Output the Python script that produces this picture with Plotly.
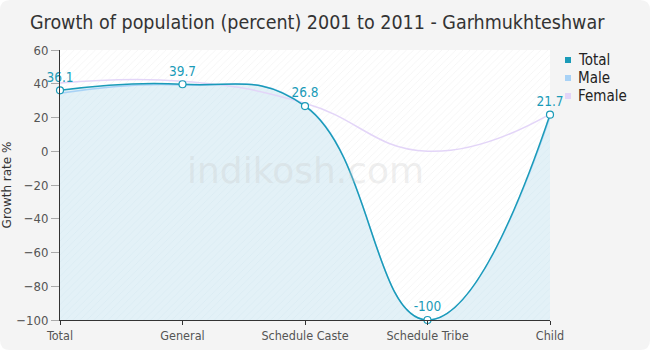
import plotly.graph_objects as go

categories = ["Total", "General", "Schedule Caste", "Schedule Tribe", "Child"]
total = [36.1, 39.7, 26.8, -100, 21.7]
male = [34.3, 39.3, 27.0, -100, 20.5]
female = [40.4, 41.5, 28.5, 0, 22.0]
y_ticks = [60, 40, 20, 0, -20, -40, -60, -80, -100]

Y_MIN, Y_MAX = -100, 60
TEAL = "#1a9bb8"
MALE_C = "#a8d2f6"
FEMALE_C = "#e3d5f8"
FONT = "DejaVu Sans Condensed, DejaVu Sans"

# plot-area pixel geometry
W, H = 650, 350
ML, MR, MT, MB = 60, 100, 50, 30
PW, PH = W - ML - MR, H - MT - MB

def px(x):
    return (x - ML) / PW

def py(y):
    return (H - MB - y) / PH

fig = go.Figure()

# hatched white plot background
fig.add_trace(go.Scatter(
    x=[categories[0], categories[-1], categories[-1], categories[0]],
    y=[Y_MAX, Y_MAX, Y_MIN, Y_MIN], fill="toself", mode="none",
    fillcolor="white",
    fillpattern=dict(shape="/", fgcolor="#e6e6e6", bgcolor="white", size=5, solidity=0.15),
    hoverinfo="skip", showlegend=False))

# baseline for the area under the Total curve
fig.add_trace(go.Scatter(x=categories, y=[Y_MIN] * len(categories), mode="lines",
                         line=dict(width=0), hoverinfo="skip", showlegend=False))
fig.add_trace(go.Scatter(
    x=categories, y=total, mode="lines", fill="tonexty",
    line=dict(color="rgba(0,0,0,0)", width=0, shape="spline", smoothing=1.3),
    fillcolor="#e1f0f6",
    fillpattern=dict(shape="/", fgcolor="#d0e5ee", bgcolor="#e3f1f7", size=5, solidity=0.15),
    hoverinfo="skip", showlegend=False))

fig.add_trace(go.Scatter(x=categories, y=female, mode="lines", name="Female",
                         line=dict(color=FEMALE_C, width=1.5, shape="spline", smoothing=1.3),
                         showlegend=False))
fig.add_trace(go.Scatter(x=categories, y=male, mode="lines", name="Male",
                         line=dict(color=MALE_C, width=1.5, shape="spline", smoothing=1.3),
                         showlegend=False))
fig.add_trace(go.Scatter(x=categories, y=total, mode="lines+markers+text", name="Total",
                         line=dict(color=TEAL, width=1.5, shape="spline", smoothing=1.3),
                         marker=dict(symbol="circle", size=7, color="white",
                                     line=dict(color=TEAL, width=1.2)),
                         text=[f"{v:g}" for v in total], textposition="top center",
                         textfont=dict(color=TEAL, size=13.5, family=FONT),
                         cliponaxis=False, showlegend=False))

# legend: small squares with labels
legend_items = [("Total", TEAL), ("Male", MALE_C), ("Female", FEMALE_C)]
for i, (name, col) in enumerate(legend_items):
    cy = 60 + 18 * i
    fig.add_shape(type="rect", xref="paper", yref="paper",
                  x0=px(565), x1=px(571), y0=py(cy + 3), y1=py(cy - 3),
                  fillcolor=col, line=dict(width=0))
    fig.add_annotation(text=name, x=px(576), y=py(cy), xref="paper", yref="paper",
                       xanchor="left", yanchor="middle", showarrow=False,
                       font=dict(size=15, color="#222", family=FONT))

fig.add_annotation(text="indikosh.com", x=0.5, y=py(170), xref="paper", yref="paper",
                   showarrow=False, font=dict(size=36, color="rgba(200,200,200,0.3)",
                                              family="DejaVu Sans"))

# rounded card background
r = 10
x0, x1, y0, y1 = px(0), px(W), py(H), py(0)
rx, ry = r / PW, r / PH
path = (f"M {x0+rx},{y0} L {x1-rx},{y0} Q {x1},{y0} {x1},{y0+ry} "
        f"L {x1},{y1-ry} Q {x1},{y1} {x1-rx},{y1} L {x0+rx},{y1} "
        f"Q {x0},{y1} {x0},{y1-ry} L {x0},{y0+ry} Q {x0},{y0} {x0+rx},{y0} Z")
fig.add_shape(type="path", path=path, xref="paper", yref="paper",
              fillcolor="#f4f4f4", line=dict(width=0), layer="below")

fig.update_layout(
    width=W, height=H, margin=dict(l=ML, r=MR, t=MT, b=MB, autoexpand=False),
    paper_bgcolor="white", plot_bgcolor="rgba(0,0,0,0)",
    font=dict(family=FONT, color="#555"),
    title=dict(text="Growth of population (percent) 2001 to 2011 - Garhmukhteshwar",
               x=30 / W, xanchor="left", y=1 - 22 / H, yanchor="middle",
               font=dict(size=19.5, color="#333", family=FONT)),
    showlegend=False,
)
fig.update_xaxes(type="category", categoryorder="array", categoryarray=categories,
                 range=[0, len(categories) - 1], automargin=False,
                 showgrid=True, gridcolor="#dcdcdc", griddash="dash",
                 showline=True, linecolor="#333", linewidth=1,
                 ticks="outside", ticklen=4, tickcolor="#333",
                 tickfont=dict(size=12.5, color="#555", family=FONT), zeroline=False)
fig.update_yaxes(range=[Y_MIN, Y_MAX], tickvals=y_ticks, automargin=False,
                 showgrid=True, gridcolor="#dcdcdc", griddash="dash",
                 showline=True, linecolor="#333", linewidth=1,
                 ticks="outside", ticklen=8, tickcolor="#aaa",
                 tickfont=dict(size=13, color="#555", family=FONT), zeroline=False,
                 title=dict(text="Growth rate %", font=dict(size=12, color="#333", family="DejaVu Sans"),
                            standoff=10))

fig.write_html("out.html")
